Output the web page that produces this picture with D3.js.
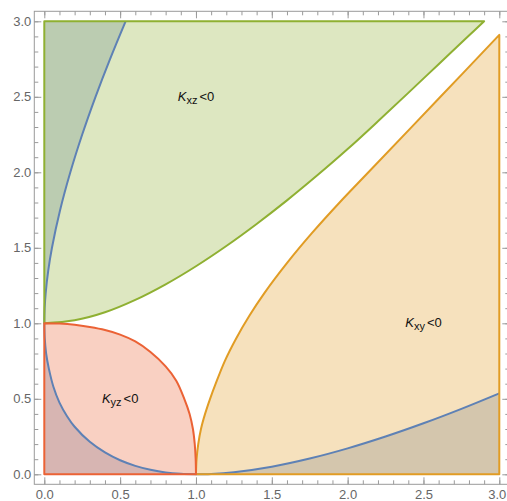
<!DOCTYPE html>
<html><head><meta charset="utf-8">
<script src="https://cdn.jsdelivr.net/npm/d3@7"></script>
<style>body{margin:0;background:#fff}svg{display:block}</style>
</head><body>
<svg id="c" width="507" height="501"></svg>
<script>
// ---- data ----
const majorTicks = [0, 0.5, 1, 1.5, 2, 2.5, 3];
const tickLabels = ["0.0", "0.5", "1.0", "1.5", "2.0", "2.5", "3.0"];
const minorTicks = [0,0.1,0.2,0.3,0.4,0.5,0.6,0.7,0.8,0.9,1,1.1,1.2,1.3,1.4,1.5,1.6,1.7,1.8,1.9,2,2.1,2.2,2.3,2.4,2.5,2.6,2.7,2.8,2.9,3];

// Kxz < 0 boundary (green)
const greenCurve = [[0,1],[0.2,1.02],[0.4,1.073],[0.6,1.155],[0.8,1.258],[1.0,1.378],[1.2,1.512],[1.4,1.658],[1.6,1.814],[1.8,1.98],[2.0,2.154],[2.2,2.338],[2.4,2.526],[2.6,2.716],[2.8,2.906],[2.9,3.0]];
const greenCorners = [[0,3]];
// Kxy < 0 boundary (orange)
const orangeCurve = [[1,0],[1.004,0.1],[1.015,0.2],[1.033,0.3],[1.06,0.4],[1.093,0.5],[1.13,0.6],[1.19,0.75],[1.265,0.9],[1.352,1.05],[1.451,1.2],[1.601,1.4],[1.767,1.6],[1.947,1.8],[2.137,2.0],[2.612,2.5],[3.0,2.91]];
const orangeCorners = [[3,0]];
// Kyz < 0 boundary (red)
const redCurve = [[0,1],[0.1,0.998],[0.2,0.99],[0.3,0.975],[0.4,0.955],[0.5,0.925],[0.6,0.88],[0.7,0.81],[0.8,0.715],[0.87,0.62],[0.923,0.5],[0.958,0.4],[0.98,0.3],[0.992,0.2],[0.998,0.1],[1,0]];
const redCorners = [[0,0]];
// blue region boundaries
const blueUpper = [[0,1],[0.0006,1.05],[0.0023,1.1],[0.0091,1.2],[0.0262,1.35],[0.0505,1.5],[0.1043,1.75],[0.1716,2.0],[0.25,2.25],[0.3377,2.5],[0.4334,2.75],[0.536,3.0]];
const blueUpperCorners = [[0,3]];
const blueLower = [[0,1],[0.003,0.9],[0.012,0.8],[0.03,0.7],[0.06,0.58],[0.1,0.475],[0.15,0.385],[0.2,0.315],[0.3,0.215],[0.4,0.145],[0.5,0.093],[0.6,0.056],[0.7,0.03],[0.8,0.012],[0.9,0.003],[1,0]];
const blueLowerCorners = [[0,0]];
const blueRight = [[1,0],[1.1,0.0024],[1.25,0.0139],[1.5,0.0505],[1.75,0.1043],[2,0.1716],[2.25,0.25],[2.5,0.3377],[2.75,0.4334],[3,0.536]];
const blueRightCorners = [[3,0]];

const labels = [
  {x: 1.0, y: 2.5, sub: "xz"},
  {x: 0.5, y: 0.5, sub: "yz"},
  {x: 2.5, y: 1.0, sub: "xy"}
];

const colors = {blue: "#5e81b5", orange: "#e19c24", green: "#8fb032", red: "#eb6235"};

// ---- drawing ----
const svg = d3.select("#c");
const x = d3.scaleLinear().domain([0, 3]).range([44.3, 499.3]);
const y = d3.scaleLinear().domain([0, 3]).range([474.3, 21.3]);
const frame = {l: 34.3, r: 509.3, t: 11.3, b: 484.3};

const lineGen = d3.line().x(d => x(d[0])).y(d => y(d[1])).curve(d3.curveCatmullRom.alpha(0.5));
function regionPath(curve, corners) {
  let p = lineGen(curve);
  corners.forEach(c => { p += "L" + x(c[0]) + "," + y(c[1]); });
  return p + "Z";
}

const fills = svg.append("g");
const regions = [
  {c: blueUpper, k: blueUpperCorners, col: colors.blue},
  {c: blueLower, k: blueLowerCorners, col: colors.blue},
  {c: blueRight, k: blueRightCorners, col: colors.blue},
  {c: orangeCurve, k: orangeCorners, col: colors.orange},
  {c: greenCurve, k: greenCorners, col: colors.green},
  {c: redCurve, k: redCorners, col: colors.red}
];
fills.selectAll("path").data(regions).join("path")
  .attr("d", d => regionPath(d.c, d.k))
  .attr("fill", d => d.col).attr("fill-opacity", 0.3).attr("stroke", "none");

const strokes = svg.append("g").attr("fill", "none").attr("stroke-width", 2).attr("stroke-linejoin", "round");
[blueUpper, blueLower, blueRight].forEach(c => {
  strokes.append("path").attr("d", lineGen(c)).attr("stroke", colors.blue);
});
[{c: orangeCurve, k: orangeCorners, col: colors.orange},
 {c: greenCurve, k: greenCorners, col: colors.green},
 {c: redCurve, k: redCorners, col: colors.red}].forEach(r => {
  strokes.append("path").attr("d", regionPath(r.c, r.k)).attr("stroke", r.col);
});

// frame
svg.append("rect").attr("x", frame.l).attr("y", frame.t)
  .attr("width", frame.r - frame.l).attr("height", frame.b - frame.t)
  .attr("fill", "none").attr("stroke", "#9a9a9a").attr("stroke-width", 1);

const fmt = v => tickLabels[majorTicks.indexOf(v)];
function styleAxis(g) {
  g.select(".domain").remove();
  g.selectAll("line").attr("stroke", "#9a9a9a");
  g.selectAll("text").attr("fill", "#666").style("font-family", "'Liberation Sans', Arial, sans-serif").style("font-size", "13px");
}
// bottom
let g = svg.append("g").attr("transform", `translate(0,${frame.b})`)
  .call(d3.axisBottom(x).tickValues(minorTicks).tickSize(-4).tickFormat("")); styleAxis(g);
g = svg.append("g").attr("transform", `translate(0,${frame.b})`)
  .call(d3.axisBottom(x).tickValues(majorTicks).tickSize(-7).tickPadding(5).tickFormat(fmt)); styleAxis(g);
// keep the last bottom label inside the window
g.selectAll(".tick").filter(d => d === 3).select("text").attr("dx", -2.5);
// top
g = svg.append("g").attr("transform", `translate(0,${frame.t})`)
  .call(d3.axisTop(x).tickValues(minorTicks).tickSize(-4).tickFormat("")); styleAxis(g);
g = svg.append("g").attr("transform", `translate(0,${frame.t})`)
  .call(d3.axisTop(x).tickValues(majorTicks).tickSize(-7).tickFormat("")); styleAxis(g);
// left
g = svg.append("g").attr("transform", `translate(${frame.l},0)`)
  .call(d3.axisLeft(y).tickValues(minorTicks).tickSize(-4).tickFormat("")); styleAxis(g);
g = svg.append("g").attr("transform", `translate(${frame.l},0)`)
  .call(d3.axisLeft(y).tickValues(majorTicks).tickSize(-7).tickPadding(3).tickFormat(fmt)); styleAxis(g);
// right
g = svg.append("g").attr("transform", `translate(${frame.r},0)`)
  .call(d3.axisRight(y).tickValues(minorTicks).tickSize(-4).tickFormat("")); styleAxis(g);
g = svg.append("g").attr("transform", `translate(${frame.r},0)`)
  .call(d3.axisRight(y).tickValues(majorTicks).tickSize(-7).tickFormat("")); styleAxis(g);

// region labels
labels.forEach(l => {
  const t = svg.append("text").attr("x", x(l.x)).attr("y", y(l.y)).attr("dy", "0.3em")
    .attr("text-anchor", "middle").attr("fill", "#111")
    .style("font-family", "'Liberation Sans', Arial, sans-serif").style("font-size", "13px");
  t.append("tspan").style("font-style", "italic").text("K");
  t.append("tspan").attr("dy", "3").style("font-size", "11px").text(l.sub);
  t.append("tspan").attr("dy", "-3").attr("dx", "2").text("<0");
});
</script>
</body></html>
